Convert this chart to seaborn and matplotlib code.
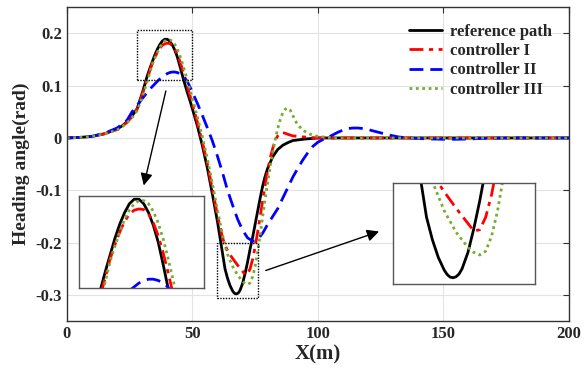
import matplotlib
matplotlib.use("Agg")
import matplotlib.pyplot as plt
import seaborn as sns
from matplotlib.patches import Rectangle

# heading angle vs X
x_ref = [0, 5, 10, 15, 20, 22, 24, 26, 28, 30, 32, 33, 34, 35, 36, 37, 38, 39, 40, 41,
         42, 43, 44, 45, 46, 47, 48, 49, 50, 52, 54, 56, 58, 60, 61, 62, 63, 64, 65, 66,
         66.5, 67, 67.5, 68, 68.5, 69, 70, 71, 72, 73, 74, 75, 76, 77, 78, 79, 80, 82,
         84, 86, 88, 90, 95, 100, 200]
y_ref = [0, 0.001, 0.003, 0.008, 0.017, 0.023, 0.031, 0.042, 0.056, 0.085, 0.118, 0.132,
         0.145, 0.158, 0.169, 0.178, 0.185, 0.1886, 0.1886, 0.185, 0.178, 0.168, 0.155,
         0.138, 0.12, 0.103, 0.087, 0.072, 0.056, 0.023, -0.015, -0.058, -0.108, -0.16,
         -0.19, -0.22, -0.25, -0.268, -0.282, -0.292, -0.2955, -0.2975, -0.298, -0.2972,
         -0.295, -0.291, -0.278, -0.259, -0.237, -0.212, -0.19, -0.165, -0.14, -0.115,
         -0.092, -0.073, -0.058, -0.036, -0.022, -0.014, -0.009, -0.005, -0.002, 0, 0]

x_c1 = [0, 5, 10, 15, 20, 22, 24, 26, 28, 30, 32, 34, 35, 36, 37, 38, 39, 40, 41, 42,
        43, 44, 45, 46, 47, 48, 49, 50, 52, 54, 56, 58, 60, 62, 63, 64, 65, 66, 68, 70,
        71, 72, 73, 74, 75, 76, 77, 78, 79, 80, 81, 82, 83, 84, 85, 86, 87, 88, 90, 94,
        100, 200]
y_c1 = [0, 0.001, 0.003, 0.008, 0.016, 0.022, 0.03, 0.041, 0.055, 0.082, 0.113, 0.142,
        0.153, 0.163, 0.171, 0.177, 0.18, 0.181, 0.1805, 0.177, 0.17, 0.16, 0.147, 0.132,
        0.116, 0.099, 0.082, 0.065, 0.03, -0.008, -0.05, -0.098, -0.148, -0.19, -0.205,
        -0.215, -0.223, -0.23, -0.243, -0.255, -0.261, -0.26, -0.25, -0.232, -0.208,
        -0.18, -0.15, -0.12, -0.09, -0.062, -0.038, -0.02, -0.005, 0.004, 0.009, 0.01,
        0.009, 0.007, 0.004, 0.002, 0, 0]

x_c2 = [0, 5, 10, 15, 20, 22, 24, 26, 28, 30, 32, 34, 36, 38, 40, 41, 42, 43, 44, 45,
        46, 48, 50, 52, 54, 56, 58, 60, 62, 64, 66, 68, 70, 72, 74, 75, 76, 78, 80, 82,
        84, 86, 88, 90, 92, 94, 96, 98, 100, 102, 104, 106, 108, 110, 112, 114, 116, 118,
        120, 124, 128, 132, 136, 140, 145, 150, 155, 160, 165, 170, 175, 200]
y_c2 = [0, 0.001, 0.003, 0.009, 0.019, 0.026, 0.034, 0.05, 0.062, 0.075, 0.087, 0.098,
        0.108, 0.117, 0.123, 0.125, 0.126, 0.126, 0.125, 0.123, 0.12, 0.108, 0.088, 0.066,
        0.043, 0.019, -0.006, -0.035, -0.066, -0.1, -0.128, -0.155, -0.176, -0.191,
        -0.197, -0.197, -0.194, -0.182, -0.165, -0.15, -0.135, -0.115, -0.095, -0.075,
        -0.058, -0.042, -0.028, -0.016, -0.008, -0.003, 0.001, 0.006, 0.011, 0.015, 0.018,
        0.019, 0.019, 0.018, 0.016, 0.011, 0.006, 0.002, 0.0, -0.001, -0.002, -0.0025,
        -0.0025, -0.002, -0.001, -0.0005, 0, 0]

x_c3 = [0, 5, 10, 15, 20, 22, 24, 26, 28, 30, 32, 34, 35, 36, 37, 38, 39, 40, 41, 42,
        43, 44, 45, 46, 47, 48, 49, 50, 52, 54, 56, 58, 60, 62, 63, 64, 66, 68, 70, 71,
        72, 73, 74, 75, 76, 77, 78, 79, 80, 81, 82, 83, 84, 85, 86, 87, 88, 89, 90, 91,
        92, 94, 96, 98, 100, 104, 110, 200]
y_c3 = [0, 0.001, 0.003, 0.008, 0.015, 0.021, 0.029, 0.039, 0.052, 0.077, 0.108, 0.14,
        0.152, 0.163, 0.173, 0.18, 0.185, 0.1875, 0.1875, 0.185, 0.179, 0.17, 0.158,
        0.143, 0.127, 0.11, 0.093, 0.076, 0.04, 0.002, -0.04, -0.088, -0.138, -0.185,
        -0.205, -0.222, -0.245, -0.262, -0.274, -0.278, -0.28, -0.277, -0.265, -0.245,
        -0.218, -0.185, -0.15, -0.117, -0.085, -0.055, -0.028, -0.003, 0.018, 0.035,
        0.048, 0.055, 0.057, 0.053, 0.043, 0.033, 0.025, 0.015, 0.009, 0.005, 0.003, 0.001,
        0, 0]

x_ticks = [0, 50, 100, 150, 200]
y_ticks = [-0.3, -0.2, -0.1, 0, 0.1, 0.2]
y_tick_labels = ['-0.3', '-0.2', '-0.1', '0', '0.1', '0.2']

series = [
    (x_ref, y_ref, 'reference path', 'black', '-'),
    (x_c1, y_c1, 'controller I', '#ff0000', (0, (5, 2, 1.5, 2))),
    (x_c2, y_c2, 'controller II', '#0000ff', (0, (5, 2.5))),
    (x_c3, y_c3, 'controller III', '#77ac30', (0, (1, 1.3))),
]

sns.set_style('white')
plt.rcParams['font.family'] = ['Liberation Serif', 'DejaVu Serif']
plt.rcParams['font.weight'] = 'bold'

fig = plt.figure(figsize=(5.86, 3.76), dpi=100)
ax = fig.add_axes([0.114, 0.146, 0.857, 0.835])

for xs, ys, lab, col, ls in series:
    sns.lineplot(x=xs, y=ys, ax=ax, color=col, linestyle=ls, linewidth=2, label=lab,
                 estimator=None, sort=False)

ax.set_xlim(0, 200)
ax.set_ylim(-0.35, 0.25)
ax.set_xticks(x_ticks)
ax.set_yticks(y_ticks)
ax.set_yticklabels(y_tick_labels)
ax.tick_params(direction='in', top=True, right=True, labelsize=12, length=4, color='#333333')
for lbl in ax.get_xticklabels() + ax.get_yticklabels():
    lbl.set_fontweight('bold')
ax.grid(True, color='#e3e3e3', linewidth=0.8)
for sp in ax.spines.values():
    sp.set_color('#333333')
    sp.set_linewidth(1)
ax.set_xlabel('X(m)', fontsize=15, fontweight='bold', labelpad=2)
ax.set_ylabel('Heading angle(rad)', fontsize=14, fontweight='bold', labelpad=4)

leg = ax.legend(loc='upper right', frameon=False, fontsize=12, handlelength=2.0,
                labelspacing=0.2, borderaxespad=0.6, handletextpad=0.5)
for t in leg.get_texts():
    t.set_fontweight('bold')

# dotted zoom boxes
ax.add_patch(Rectangle((28, 0.11), 22, 0.096, fill=False, linestyle=(0, (1, 1)),
                       edgecolor='black', linewidth=1, zorder=5))
ax.add_patch(Rectangle((60, -0.305), 16, 0.105, fill=False, linestyle=(0, (1, 1)),
                       edgecolor='black', linewidth=1, zorder=5))

# arrows
ax.annotate('', xy=(30.4, -0.096), xytext=(39.7, 0.095),
            arrowprops=dict(arrowstyle='-|>', color='black', lw=1, mutation_scale=18))
ax.annotate('', xy=(125.4, -0.177), xytext=(78.2, -0.255),
            arrowprops=dict(arrowstyle='-|>', color='black', lw=1, mutation_scale=18))

# insets
ins1 = ax.inset_axes([0.024, 0.105, 0.249, 0.293])
ins1.set_xlim(27.5, 53.5)
ins1.set_ylim(0.119, 0.191)
ins2 = ax.inset_axes([0.649, 0.118, 0.283, 0.322])
ins2.set_xlim(57.3, 81.3)
ins2.set_ylim(-0.303, -0.223)
for ins in (ins1, ins2):
    for xs, ys, lab, col, ls in series:
        sns.lineplot(x=xs, y=ys, ax=ins, color=col, linestyle=ls, linewidth=2,
                     estimator=None, sort=False, legend=False)
    ins.set_xticks([])
    ins.set_yticks([])
    ins.set_facecolor('white')
    for sp in ins.spines.values():
        sp.set_color('#555555')
        sp.set_linewidth(1)

fig.savefig('out.png', dpi=100)
